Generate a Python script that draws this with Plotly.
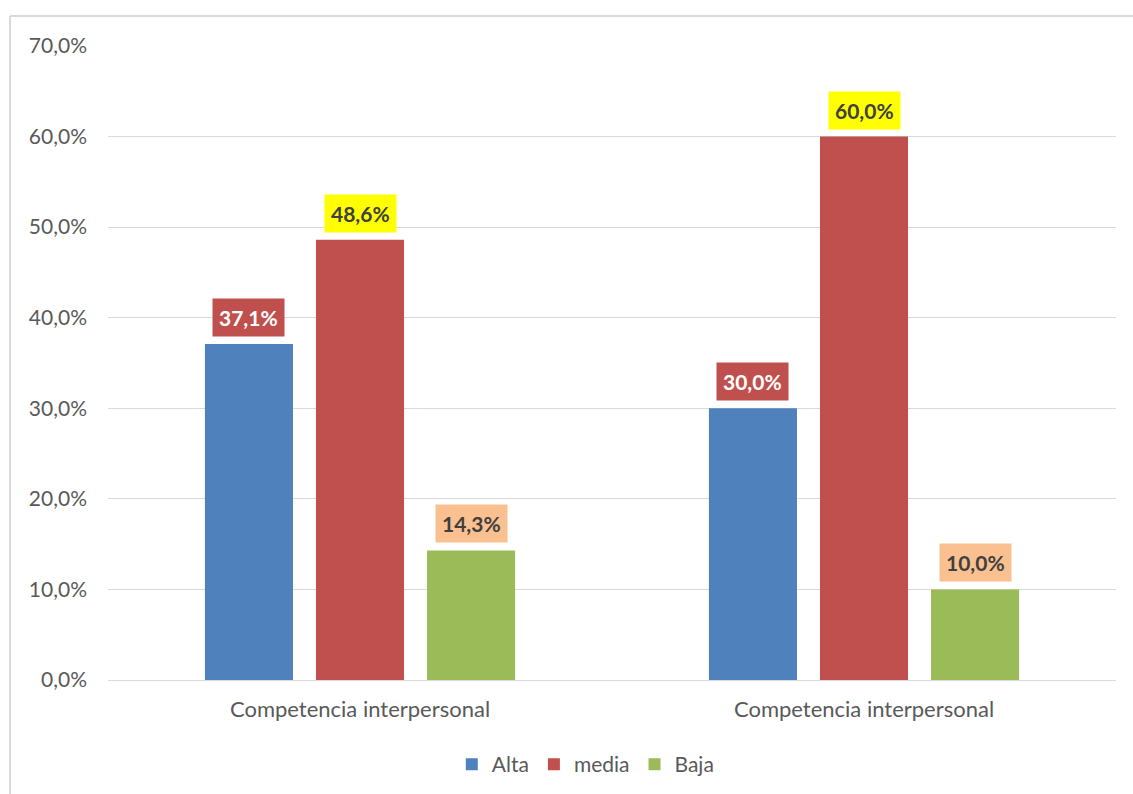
import plotly.graph_objects as go

# Category positions (both groups carry the same label)
group_pos = [0, 1]
group_labels = ["Competencia interpersonal", "Competencia interpersonal"]

series_names = ["Alta", "media", "Baja"]
alta = [37.1, 30.0]
media = [48.6, 60.0]
baja = [14.3, 10.0]

y_ticks = [0, 10, 20, 30, 40, 50, 60, 70]
y_tick_text = [f"{v:.1f}%".replace(".", ",") for v in y_ticks]

bar_colors = ["#4F81BD", "#C0504D", "#9BBB59"]
label_bg = ["#C0504D", "#FFFF00", "#FAC090"]
label_fg = ["#FFFFFF", "#404040", "#404040"]

FONT = "Lato, 'Open Sans', sans-serif"
GRID = "#D9D9D9"
TXT = "#595959"

fig = go.Figure()
series = [alta, media, baja]
for name, vals, col in zip(series_names, series, bar_colors):
    fig.add_trace(go.Bar(x=group_pos, y=vals, name=name, marker_color=col,
                         marker_line_width=0))

bargap = 0.339
bargroupgap = 0.207
slot = (1 - bargap) / 3
annotations = []
for i, vals in enumerate(series):
    off = (i - 1) * slot
    for xp, v in zip(group_pos, vals):
        annotations.append(dict(
            x=xp + off, y=v, xref="x", yref="y",
            text=f"{v:.1f}%".replace(".", ","),
            showarrow=False, yanchor="bottom", xanchor="center", yshift=7,
            bgcolor=label_bg[i], borderpad=6,
            font=dict(family=FONT, size=21, color=label_fg[i], weight="bold"),
        ))

# Outer chart frame (left and top edges)
shapes = [
    dict(type="line", xref="paper", yref="paper", x0=-0.0972, x1=-0.0972,
         y0=-0.2, y1=1.0473, line=dict(color=GRID, width=2)),
    dict(type="line", xref="paper", yref="paper", x0=-0.0972, x1=1.1,
         y0=1.0473, y1=1.0473, line=dict(color=GRID, width=2)),
]

fig.update_layout(
    width=1133, height=794,
    margin=dict(l=108, r=17, t=46, b=114, autoexpand=False),
    paper_bgcolor="white", plot_bgcolor="white",
    barmode="group", bargap=bargap, bargroupgap=bargroupgap,
    font=dict(family=FONT, size=21, color=TXT),
    xaxis=dict(tickmode="array", tickvals=group_pos, ticktext=group_labels,
               range=[-0.5, 1.5], showgrid=False, zeroline=False, showline=False,
               ticks="", ticklabelstandoff=14, automargin=False,
               tickfont=dict(family=FONT, size=22, color=TXT)),
    yaxis=dict(range=[0, 70], tickmode="array", tickvals=y_ticks,
               ticktext=y_tick_text, automargin=False,
               showgrid=True, gridcolor=GRID, gridwidth=1, zeroline=True,
               zerolinecolor=GRID, zerolinewidth=1, showline=False, ticks="",
               ticklabelstandoff=20,
               tickfont=dict(family=FONT, size=21, color=TXT)),
    legend=dict(orientation="h", x=0.474, xanchor="center",
                yref="container", y=0.037, yanchor="middle",
                font=dict(family=FONT, size=21, color=TXT),
                traceorder="normal"),
    annotations=annotations,
    shapes=shapes,
    showlegend=True,
)

fig.write_html("out.html")
